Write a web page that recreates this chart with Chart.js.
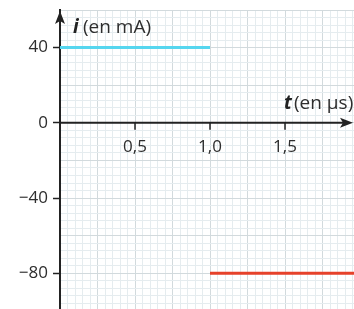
<!DOCTYPE html>
<html>
<head>
<meta charset="utf-8">
<script src="https://cdn.jsdelivr.net/npm/chart.js@4/dist/chart.umd.min.js"></script>
<style>
  html, body { margin: 0; padding: 0; background: #fff; }
  #wrap { width: 354px; height: 309px; }
</style>
</head>
<body>
<div id="wrap"><canvas id="chart"></canvas></div>
<script>
// time in µs, current in mA
const highT = [0, 1.0];
const highI = [40, 40];
const lowT = [1.0, 2.0];
const lowI = [-80, -80];

const xTickValues = [0.5, 1.0, 1.5];
const xTickLabels = ['0,5', '1,0', '1,5'];
const yTickValues = [40, 0, -40, -80];
const yTickLabels = ['40', '0', '−40', '−80'];

const ink = '#222';
const labelColor = '#2e2e2e';
const fontFamily = '"Open Sans", "Liberation Sans", sans-serif';

function isMultiple(v, step) {
    const r = v / step;
    return Math.abs(r - Math.round(r)) < 1e-6;
}

// keep the plot area fixed: no extra room for labels
function noPadding(scale) {
    scale.paddingTop = 0;
    scale.paddingBottom = 0;
    scale.paddingLeft = 0;
    scale.paddingRight = 0;
}

// axis line at i = 0, arrows, tick marks, tick labels and axis titles
const axesPlugin = {
    id: 'axesPlugin',
    afterDraw: function(chart) {
        const ctx = chart.ctx;
        const xs = chart.scales.x;
        const ys = chart.scales.y;
        const area = chart.chartArea;
        const y0 = ys.getPixelForValue(0);
        const x0 = xs.getPixelForValue(0);

        ctx.save();
        ctx.strokeStyle = ink;
        ctx.fillStyle = ink;
        ctx.lineWidth = 2;

        // horizontal axis
        ctx.beginPath();
        ctx.moveTo(x0, y0);
        ctx.lineTo(area.right - 6, y0);
        ctx.stroke();

        // arrow heads
        const tipX = area.right - 1;
        ctx.beginPath();
        ctx.moveTo(tipX, y0);
        ctx.lineTo(tipX - 13, y0 - 5);
        ctx.lineTo(tipX - 10, y0);
        ctx.lineTo(tipX - 13, y0 + 5);
        ctx.closePath();
        ctx.fill();

        const tipY = area.top + 1;
        ctx.beginPath();
        ctx.moveTo(x0, tipY);
        ctx.lineTo(x0 - 5, tipY + 13);
        ctx.lineTo(x0, tipY + 10);
        ctx.lineTo(x0 + 5, tipY + 13);
        ctx.closePath();
        ctx.fill();

        // tick marks and labels on the time axis
        ctx.lineWidth = 1.5;
        ctx.font = '17px ' + fontFamily;
        ctx.textAlign = 'center';
        ctx.textBaseline = 'middle';
        xTickValues.forEach((v, k) => {
            const px = xs.getPixelForValue(v);
            ctx.beginPath();
            ctx.moveTo(px, y0);
            ctx.lineTo(px, y0 + 7);
            ctx.stroke();
            ctx.fillStyle = labelColor;
            ctx.fillText(xTickLabels[k], px, y0 + 24);
        });

        // axis titles
        ctx.textAlign = 'left';
        ctx.textBaseline = 'alphabetic';
        ctx.fillStyle = ink;
        ctx.font = 'italic bold 19px ' + fontFamily;
        ctx.fillText('i', x0 + 13, 33);
        ctx.fillText('t', xs.getPixelForValue(1.5) - 1, y0 - 14);
        ctx.fillStyle = labelColor;
        ctx.font = '19px ' + fontFamily;
        ctx.fillText('(en mA)', x0 + 23, 33);
        ctx.fillText('(en µs)', xs.getPixelForValue(1.5) + 9, y0 - 14);
        ctx.restore();
    }
};

const chart = new Chart(document.getElementById('chart').getContext('2d'), {
    type: 'scatter',
    data: {
        datasets: [{
            data: highT.map((t, k) => ({ x: t, y: highI[k] })),
            showLine: true,
            borderColor: '#55d6ef',
            borderWidth: 3,
            pointRadius: 0
        }, {
            data: lowT.map((t, k) => ({ x: t, y: lowI[k] })),
            showLine: true,
            borderColor: '#e6412a',
            borderWidth: 3,
            pointRadius: 0
        }]
    },
    options: {
        responsive: true,
        maintainAspectRatio: false,
        animation: false,
        layout: { padding: { top: 10, left: 0, right: 0, bottom: 0 } },
        plugins: {
            legend: { display: false },
            tooltip: { enabled: false }
        },
        scales: {
            x: {
                type: 'linear',
                min: 0,
                max: 1.96,
                afterFit: function(scale) { scale.height = 0; noPadding(scale); },
                border: { display: false },
                ticks: { display: false, stepSize: 0.05, includeBounds: false },
                grid: {
                    drawTicks: false,
                    lineWidth: 1,
                    color: ctx => isMultiple(ctx.tick.value, 0.25) ? '#d2dadd' : '#e5ecef'
                }
            },
            y: {
                type: 'linear',
                min: -99,
                max: 60,
                afterFit: function(scale) { scale.width = 60; noPadding(scale); },
                border: { display: true, color: ink, width: 2 },
                ticks: {
                    stepSize: 4,
                    includeBounds: false,
                    autoSkip: false,
                    padding: 5,
                    color: labelColor,
                    font: { family: fontFamily, size: 17 },
                    callback: function(value) {
                        const k = yTickValues.indexOf(Math.round(value));
                        return (k >= 0 && isMultiple(value, 1)) ? yTickLabels[k] : '';
                    }
                },
                grid: {
                    lineWidth: 1,
                    tickLength: 7,
                    tickWidth: 1.5,
                    tickColor: ctx => yTickValues.indexOf(Math.round(ctx.tick.value)) >= 0 ? ink : 'rgba(0,0,0,0)',
                    color: ctx => isMultiple(ctx.tick.value, 20) ? '#d2dadd' : '#e5ecef'
                }
            }
        }
    },
    plugins: [axesPlugin]
});
</script>
</body>
</html>
